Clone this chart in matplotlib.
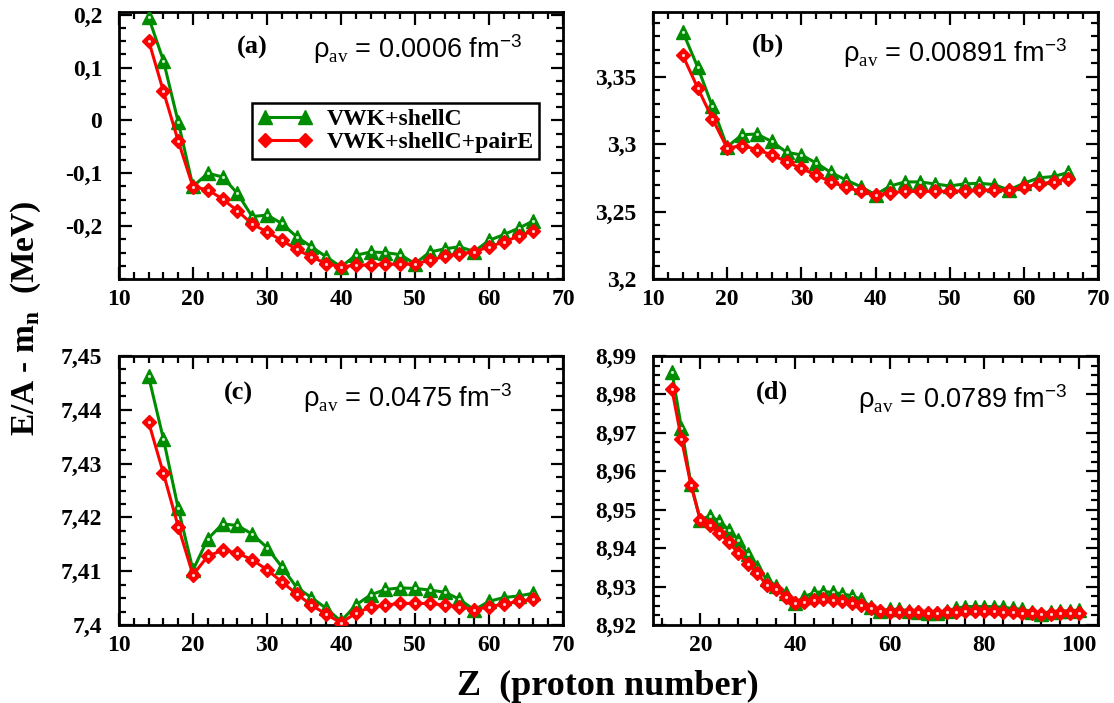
import matplotlib
matplotlib.use("Agg")
import matplotlib.pyplot as plt
from matplotlib.ticker import FixedLocator, MultipleLocator, FixedFormatter

plt.rcParams['font.family'] = ['Liberation Serif', 'DejaVu Serif']
plt.rcParams['font.weight'] = 'bold'
plt.rcParams['mathtext.fontset'] = 'custom'
plt.rcParams['mathtext.rm'] = 'Liberation Serif:normal'
plt.rcParams['mathtext.bf'] = 'Liberation Serif:bold'
plt.rcParams['mathtext.sf'] = 'Liberation Sans:normal'

# ---------------- data ----------------
Z_abc = [14, 16, 18, 20, 22, 24, 26, 28, 30, 32, 34, 36, 38, 40, 42, 44, 46, 48,
         50, 52, 54, 56, 58, 60, 62, 64, 66]
Z_d = [14, 16, 18, 20, 22, 24, 26, 28, 30, 32, 34, 36, 38, 40, 42, 44, 46, 48,
       50, 52, 54, 56, 58, 60, 62, 64, 66, 68, 70, 72, 74, 76, 78, 80, 82, 84,
       86, 88, 90, 92, 94, 96, 98, 100]

a_shell = [0.195, 0.113, -0.003, -0.125, -0.100, -0.107, -0.138, -0.182, -0.179,
           -0.195, -0.220, -0.239, -0.258, -0.277, -0.255, -0.249, -0.250, -0.254,
           -0.271, -0.249, -0.243, -0.239, -0.248, -0.227, -0.216, -0.204, -0.190]
a_pair = [0.151, 0.055, -0.039, -0.126, -0.131, -0.149, -0.171, -0.196, -0.211,
          -0.227, -0.244, -0.258, -0.271, -0.277, -0.274, -0.273, -0.272, -0.272,
          -0.271, -0.265, -0.257, -0.252, -0.249, -0.239, -0.230, -0.219, -0.209]

b_shell = [3.3835, 3.3575, 3.328, 3.298, 3.307, 3.3075, 3.302, 3.294, 3.292,
           3.286, 3.279, 3.2735, 3.2685, 3.2625, 3.269, 3.272, 3.272, 3.2705,
           3.269, 3.2705, 3.271, 3.270, 3.266, 3.271, 3.275, 3.276, 3.279]
b_pair = [3.366, 3.342, 3.319, 3.297, 3.299, 3.296, 3.292, 3.287, 3.282,
          3.277, 3.272, 3.268, 3.265, 3.262, 3.264, 3.265, 3.265, 3.265,
          3.265, 3.2655, 3.266, 3.266, 3.266, 3.268, 3.2705, 3.272, 3.2745]

c_shell = [7.4462, 7.4346, 7.4217, 7.4102, 7.4160, 7.4188, 7.4185, 7.4169, 7.4144,
           7.4108, 7.4070, 7.4051, 7.4031, 7.4007, 7.4037, 7.4056, 7.4066, 7.4069,
           7.4068, 7.4065, 7.4061, 7.4048, 7.4028, 7.4044, 7.4051, 7.4054, 7.4059]
c_pair = [7.4377, 7.4282, 7.4183, 7.4093, 7.4128, 7.4139, 7.4134, 7.4121, 7.4103,
          7.4080, 7.4058, 7.4037, 7.4020, 7.4004, 7.4022, 7.4033, 7.4037, 7.4040,
          7.4040, 7.4040, 7.4037, 7.4034, 7.4028, 7.4034, 7.4039, 7.4044, 7.4048]

d_shell = [8.9859, 8.9713, 8.9568, 8.9474, 8.9484, 8.9470, 8.9448, 8.9422, 8.9384,
           8.9352, 8.9319, 8.9302, 8.9283, 8.9257, 8.9274, 8.9284, 8.9287, 8.9285,
           8.9281, 8.9276, 8.9267, 8.9248, 8.9237, 8.9241, 8.9241, 8.9237, 8.9235,
           8.9232, 8.9232, 8.9237, 8.9243, 8.9248, 8.9248, 8.9248, 8.9248, 8.9246,
           8.9243, 8.9241, 8.9235, 8.9229, 8.9235, 8.9237, 8.9237, 8.9239]
d_pair = [8.9813, 8.9684, 8.9565, 8.9472, 8.9459, 8.9439, 8.9416, 8.9387, 8.9359,
          8.9335, 8.9304, 8.9293, 8.9274, 8.9257, 8.9261, 8.9265, 8.9267, 8.9265,
          8.9263, 8.9258, 8.9252, 8.9243, 8.9237, 8.9235, 8.9235, 8.9235, 8.9233,
          8.9232, 8.9232, 8.9233, 8.9235, 8.9237, 8.9237, 8.9237, 8.9237, 8.9235,
          8.9233, 8.9232, 8.9230, 8.9228, 8.9229, 8.9230, 8.9232, 8.9232]

series_labels = ["VWK+shellC", "VWK+shellC+pairE"]
panel_labels = ["(a)", "(b)", "(c)", "(d)"]
densities = ["0.0006", "0.00891", "0.0475", "0.0789"]

xticks_abc = [10, 20, 30, 40, 50, 60, 70]
xticks_d = [20, 40, 60, 80, 100]
yticks_a = [-0.2, -0.1, 0.0, 0.1, 0.2]
ylabels_a = ["-0,2", "-0,1", "0", "0,1", "0,2"]
yticks_b = [3.2, 3.25, 3.3, 3.35]
ylabels_b = ["3,2", "3,25", "3,3", "3,35"]
yticks_c = [7.40, 7.41, 7.42, 7.43, 7.44, 7.45]
ylabels_c = ["7,4", "7,41", "7,42", "7,43", "7,44", "7,45"]
yticks_d = [8.92, 8.93, 8.94, 8.95, 8.96, 8.97, 8.98, 8.99]
ylabels_d = ["8,92", "8,93", "8,94", "8,95", "8,96", "8,97", "8,98", "8,99"]

# ---------------- figure ----------------
W, H = 1114, 703
fig = plt.figure(figsize=(W / 100, H / 100), dpi=100)

GREEN = '#008c00'
RED = '#ff0000'


def add_ax(l, r, t, b):
    return fig.add_axes([l / W, 1 - b / H, (r - l) / W, (b - t) / H])


def style(ax, xlim, xt, xminor, ylim, yt, yl, yminor):
    ax.set_xlim(*xlim)
    ax.set_ylim(*ylim)
    ax.xaxis.set_major_locator(FixedLocator(xt))
    ax.xaxis.set_major_formatter(FixedFormatter([str(v) for v in xt]))
    ax.xaxis.set_minor_locator(MultipleLocator(xminor))
    ax.yaxis.set_major_locator(FixedLocator(yt))
    ax.yaxis.set_major_formatter(FixedFormatter(yl))
    ax.yaxis.set_minor_locator(MultipleLocator(yminor))
    ax.tick_params(which='both', direction='in', top=True, right=True,
                   width=1.6, labelsize=17)
    ax.tick_params(axis='y', which='major', pad=12)
    ax.tick_params(axis='x', which='major', pad=7)
    ax.tick_params(which='major', length=9)
    ax.tick_params(which='minor', length=5)
    for s in ax.spines.values():
        s.set_linewidth(2.0)


def draw(ax, x, y1, y2):
    h1, = ax.plot(x, y1, color=GREEN, lw=2.2, marker='^', ms=9.5,
                  mfc=GREEN, mec=GREEN, mew=1.0, zorder=3)
    ax.plot(x, y1, ls='none', marker='.', ms=2.5, color='#c8f0c8', zorder=3.1)
    h2, = ax.plot(x, y2, color=RED, lw=2.2, marker='D', ms=7,
                  mfc=RED, mec=RED, mew=1.0, zorder=4)
    ax.plot(x, y2, ls='none', marker='.', ms=2.5, color='#ffd0d0', zorder=4.1)
    return h1, h2


axA = add_ax(119, 563, 12, 279)
axB = add_ax(653, 1098, 12, 279)
axC = add_ax(119, 563, 356, 625)
axD = add_ax(653, 1098, 356, 625)

hA = draw(axA, Z_abc, a_shell, a_pair)
draw(axB, Z_abc, b_shell, b_pair)
draw(axC, Z_abc, c_shell, c_pair)
draw(axD, Z_d, d_shell, d_pair)

style(axA, (10, 70), xticks_abc, 2, (-0.3, 0.205), yticks_a, ylabels_a, 0.025)
style(axB, (10, 70), xticks_abc, 2, (3.2, 3.398), yticks_b, ylabels_b, 0.01)
style(axC, (10, 70), xticks_abc, 2, (7.4, 7.45), yticks_c, ylabels_c, 0.0025)
style(axD, (10, 104), xticks_d, 4, (8.92, 8.99), yticks_d, ylabels_d, 0.0025)

# panel labels and density annotations
lab_pos = [(252, 47), (768, 45), (238, 393), (772, 392)]
rho_pos = [(313, 58), (843, 62), (303, 407), (858, 408)]
for lab, (x, y) in zip(panel_labels, lab_pos):
    fig.text(x / W, 1 - y / H, lab, ha='center', va='center',
             fontsize=19, fontweight='bold')
for dens, (x, y) in zip(densities, rho_pos):
    fig.text(x / W, 1 - y / H,
             'ρ$_{\\mathrm{av}}$ = ' + dens + ' fm$^{\\mathsf{-3}}$',
             ha='left', va='baseline', fontsize=19.5,
             family=['Liberation Sans', 'DejaVu Sans'], fontweight='normal')

leg = axA.legend(hA, series_labels, loc='upper left', numpoints=2,
                 bbox_to_anchor=(252 / W, 1 - 103 / H),
                 bbox_transform=fig.transFigure, fancybox=False,
                 edgecolor='black', framealpha=1, fontsize=17,
                 handlelength=2.3, borderpad=0.25, labelspacing=0.05,
                 handletextpad=0.6, borderaxespad=0)
leg.get_frame().set_linewidth(1.8)

fig.text(608 / W, 1 - 695 / H, 'Z  (proton number)', ha='center', va='baseline',
         fontsize=26, fontweight='bold')
fig.text(26 / W, 1 - 318 / H, 'E/A - m$_{\\mathbf{n}}$  (MeV)', ha='center',
         va='center', rotation=90, fontsize=24, fontweight='bold')

fig.savefig('out.png', dpi=100)
